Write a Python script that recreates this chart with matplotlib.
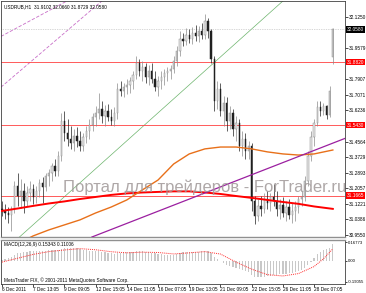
import numpy as np
import matplotlib
matplotlib.use('Agg')
from matplotlib import pyplot as plt
import matplotlib.transforms as mtransforms

plt.rcParams['font.family'] = ['Liberation Sans', 'DejaVu Sans']

header = 'USDRUB,H1  31.9102 32.0660 31.8729 32.0580'

# hourly bars, oldest first
opens = [31.095, 31.084, 31.073, 31.062, 31.095, 31.218, 31.164, 31.191, 31.138, 31.181,
         31.202, 31.159, 31.191, 31.234, 31.213, 31.272, 31.288, 31.325, 31.299, 31.379,
         31.567, 31.503, 31.470, 31.449, 31.486, 31.460, 31.433, 31.481, 31.513, 31.545,
         31.588, 31.610, 31.631, 31.594, 31.621, 31.588, 31.567, 31.610, 31.739, 31.728,
         31.749, 31.760, 31.782, 31.814, 31.878, 31.835, 31.857, 31.803, 31.835, 31.792,
         31.749, 31.782, 31.803, 31.825, 31.835, 31.846, 31.889, 31.943, 32.007, 31.996,
         32.029, 32.007, 32.039, 32.023, 32.050, 32.029, 32.104, 32.050, 31.900, 31.674,
         31.739, 31.621, 31.664, 31.567, 31.610, 31.524, 31.556, 31.433, 31.470, 31.406,
         31.433, 31.138, 31.057, 31.111, 31.095, 31.148, 31.127, 31.159, 31.138, 31.095,
         31.116, 31.073, 31.105, 31.062, 31.084, 31.105, 31.148, 31.159, 31.245, 31.379,
         31.481, 31.556, 31.642, 31.621, 31.647, 31.599, 31.9102]
highs = [31.138, 31.122, 31.105, 31.111, 31.245, 31.288, 31.256, 31.234, 31.218, 31.245,
         31.229, 31.218, 31.256, 31.266, 31.288, 31.309, 31.342, 31.363, 31.406, 31.610,
         31.621, 31.578, 31.540, 31.524, 31.535, 31.513, 31.503, 31.540, 31.578, 31.610,
         31.647, 31.717, 31.674, 31.653, 31.658, 31.631, 31.642, 31.771, 31.782, 31.771,
         31.792, 31.803, 31.835, 31.916, 31.900, 31.889, 31.878, 31.868, 31.878, 31.835,
         31.809, 31.835, 31.846, 31.857, 31.868, 31.916, 31.970, 32.050, 32.039, 32.066,
         32.061, 32.071, 32.082, 32.077, 32.093, 32.141, 32.120, 32.061, 31.916, 31.782,
         31.771, 31.701, 31.696, 31.647, 31.631, 31.594, 31.578, 31.513, 31.503, 31.460,
         31.449, 31.164, 31.148, 31.164, 31.181, 31.191, 31.181, 31.229, 31.191, 31.148,
         31.159, 31.138, 31.148, 31.127, 31.138, 31.164, 31.191, 31.272, 31.406, 31.513,
         31.578, 31.674, 31.674, 31.664, 31.653, 31.755, 32.0660]
lows = [31.057, 31.041, 31.020, 30.977, 31.073, 31.111, 31.100, 31.073, 31.111, 31.138,
        31.122, 31.127, 31.159, 31.127, 31.191, 31.218, 31.245, 31.272, 31.272, 31.352,
        31.460, 31.433, 31.417, 31.406, 31.427, 31.406, 31.406, 31.449, 31.470, 31.513,
        31.540, 31.578, 31.556, 31.540, 31.567, 31.545, 31.540, 31.578, 31.701, 31.696,
        31.712, 31.717, 31.739, 31.792, 31.809, 31.782, 31.771, 31.760, 31.771, 31.728,
        31.701, 31.739, 31.760, 31.782, 31.792, 31.825, 31.862, 31.916, 31.970, 31.975,
        31.986, 31.980, 31.996, 31.991, 32.007, 32.007, 32.012, 31.878, 31.621, 31.631,
        31.594, 31.540, 31.513, 31.524, 31.486, 31.460, 31.406, 31.379, 31.363, 31.363,
        31.084, 31.014, 31.030, 31.057, 31.073, 31.095, 31.084, 31.111, 31.057, 31.041,
        31.052, 31.030, 31.041, 31.020, 31.030, 31.073, 31.111, 31.138, 31.218, 31.352,
        31.433, 31.540, 31.594, 31.599, 31.578, 31.588, 31.8729]
closes = [31.084, 31.073, 31.062, 31.095, 31.218, 31.164, 31.191, 31.138, 31.181, 31.202,
          31.159, 31.191, 31.234, 31.213, 31.272, 31.288, 31.325, 31.299, 31.379, 31.567,
          31.503, 31.470, 31.449, 31.486, 31.460, 31.433, 31.481, 31.513, 31.545, 31.588,
          31.610, 31.631, 31.594, 31.621, 31.588, 31.567, 31.610, 31.739, 31.728, 31.749,
          31.760, 31.782, 31.814, 31.878, 31.835, 31.857, 31.803, 31.835, 31.792, 31.749,
          31.782, 31.803, 31.825, 31.835, 31.846, 31.889, 31.943, 32.007, 31.996, 32.029,
          32.007, 32.039, 32.023, 32.050, 32.029, 32.104, 32.050, 31.900, 31.674, 31.739,
          31.621, 31.664, 31.567, 31.610, 31.524, 31.556, 31.433, 31.470, 31.406, 31.433,
          31.138, 31.057, 31.111, 31.095, 31.148, 31.127, 31.159, 31.138, 31.095, 31.116,
          31.073, 31.105, 31.062, 31.084, 31.105, 31.148, 31.159, 31.245, 31.379, 31.481,
          31.556, 31.642, 31.621, 31.647, 31.599, 31.728, 32.0580]

date_bars = [0, 10, 20, 30, 40, 50, 60, 70, 80, 90, 100]
date_labels = ['6 Dec 2011', '7 Dec 13:05', '9 Dec 09:05', '12 Dec 15:05', '14 Dec 11:05',
               '16 Dec 07:05', '19 Dec 13:05', '21 Dec 09:05', '22 Dec 15:05',
               '26 Dec 11:05', '28 Dec 07:05']

# moving averages (read every 5 bars)
ma_red_bars = [0, 5, 10, 15, 20, 25, 30, 35, 40, 45, 50, 55, 60, 65, 70, 75, 80, 85, 90, 95, 100, 106]
ma_red = [31.084, 31.097, 31.111, 31.124, 31.135, 31.148, 31.159, 31.170, 31.178, 31.183, 31.186,
          31.189, 31.189, 31.183, 31.175, 31.164, 31.154, 31.143, 31.132, 31.122, 31.108, 31.095]
ma_orange_bars = [5, 10, 15, 20, 25, 30, 35, 40, 45, 50, 55, 60, 65, 70, 75, 80, 85, 90, 95, 100, 106]
ma_orange = [30.907, 30.950, 30.982, 31.009, 31.036, 31.073, 31.105, 31.143, 31.197, 31.250, 31.336,
             31.390, 31.417, 31.427, 31.427, 31.417, 31.401, 31.390, 31.384, 31.390, 31.411]

# drawn objects: (bar, price) anchor pairs
green_line = [(4.2, 30.923), (90.0, 32.211)]
purple_line = [(28.2, 30.940), (110.3, 31.476)]
dashed_lines = [[(-0.64, 32.018), (20.8, 32.211)],
                [(-0.64, 31.744), (32.0, 32.211)]]
levels = [31.8820, 31.5430, 31.1665]
bid = 32.0580

price_ticks = [32.1250, 31.9579, 31.7907, 31.7071, 31.6236, 31.4564, 31.3729,
               31.2893, 31.2057, 31.1221, 31.0386, 30.9550]

macd_hist = [0.010, 0.020, 0.030, 0.040, 0.058, 0.068, 0.076, 0.078, 0.084, 0.088,
             0.089, 0.090, 0.092, 0.092, 0.095, 0.097, 0.100, 0.100, 0.102, 0.112,
             0.118, 0.118, 0.120, 0.118, 0.115, 0.110, 0.104, 0.098, 0.094, 0.092,
             0.090, 0.088, 0.083, 0.078, 0.073, 0.069, 0.066, 0.072, 0.076, 0.078,
             0.080, 0.081, 0.083, 0.090, 0.090, 0.088, 0.084, 0.080, 0.076, 0.070,
             0.064, 0.060, 0.057, 0.055, 0.054, 0.058, 0.066, 0.076, 0.082, 0.084,
             0.085, 0.085, 0.086, 0.086, 0.087, 0.092, 0.090, 0.072, 0.036, 0.018,
             -0.004, -0.016, -0.032, -0.042, -0.056, -0.062, -0.076, -0.082, -0.094, -0.098,
             -0.124, -0.142, -0.146, -0.146, -0.142, -0.138, -0.134, -0.128, -0.126, -0.122,
             -0.120, -0.114, -0.112, -0.108, -0.100, -0.090, -0.080, -0.060, -0.034, -0.008,
             0.026, 0.060, 0.082, 0.098, 0.106, 0.122, 0.153]
signal_bars = [0, 5, 10, 15, 20, 25, 30, 35, 40, 45, 50, 55, 60, 65, 70, 75, 80, 85, 90, 95, 100, 103, 106]
signal = [-0.010, 0.025, 0.060, 0.085, 0.100, 0.112, 0.102, 0.084, 0.074, 0.080, 0.077, 0.064,
          0.074, 0.085, 0.063, -0.010, -0.074, -0.124, -0.136, -0.114, -0.050, 0.020, 0.110]
macd_ticks = [0.16773, 0.0, -0.19055]
macd_tick_labels = ['0.16773', '0.00', '-0.19055']

W, H = 366, 293
fig = plt.figure(figsize=(W / 100, H / 100), dpi=100)
ax = fig.add_axes([1 / W, 1 - 237 / H, 344 / W, 236 / H])
ax2 = fig.add_axes([1 / W, 1 - 284 / H, 344 / W, 44 / H], sharex=ax)

small = 3.4
o, h, l, c = map(np.asarray, (opens, highs, lows, closes))
idx = np.arange(len(c))
up = c >= o

ax.vlines(idx[up], l[up], h[up], color='#8c8c8c', lw=0.5, zorder=3)
ax.vlines(idx[~up], l[~up], h[~up], color='#202020', lw=0.5, zorder=3)
ax.bar(idx[up], (c - o)[up], bottom=o[up], width=0.42, color='#e6e6e6',
       edgecolor='#8c8c8c', lw=0.35, zorder=4)
ax.bar(idx[~up], (o - c)[~up], bottom=c[~up], width=0.42, color='#202020',
       edgecolor='#202020', lw=0.35, zorder=4)

ax.plot(ma_red_bars, ma_red, color='#ff0000', lw=1.4, zorder=5)
ax.plot(ma_orange_bars, ma_orange, color='#e8701a', lw=1.0, zorder=5)
ax.axline(*green_line, color='#6cb46c', lw=0.5, zorder=2)
ax.axline(*purple_line, color='#9b1fa0', lw=0.9, zorder=5)
for seg in dashed_lines:
    ax.axline(*seg, color='#c86ec8', lw=0.6, ls=(0, (4, 2)), zorder=2)

for lv in levels:
    ax.axhline(lv, color='#ff4040', lw=0.6, zorder=2)
ax.axhline(bid, color='#b0b0b0', lw=0.5, ls=(0, (1, 1.5)), zorder=2)

ax.set_xlim(-0.32, 109.9)
ax.set_ylim(30.944, 32.211)
ax.yaxis.tick_right()
ax.set_yticks(price_ticks)
ax.set_yticklabels(['%.4f' % v for v in price_ticks])
ax.tick_params(axis='y', labelsize=small, length=2, width=0.5, pad=1)
ax.tick_params(axis='x', bottom=False, labelbottom=False)

tr = mtransforms.blended_transform_factory(ax.transAxes, ax.transData)
for lv in levels:
    ax.text(1.006, lv, '%.4f' % lv, transform=tr, fontsize=small, color='white',
            va='center', ha='left', clip_on=False, zorder=10,
            bbox=dict(boxstyle='square,pad=0.12', fc='#ff0000', ec='none'))
ax.text(1.006, bid, '%.4f' % bid, transform=tr, fontsize=small, color='white',
        va='center', ha='left', clip_on=False, zorder=10,
        bbox=dict(boxstyle='square,pad=0.12', fc='black', ec='none'))

ax.text(0.008, 0.988, header, transform=ax.transAxes, fontsize=small, va='top', ha='left')

# MACD window
ax2.bar(idx, macd_hist, width=0.4, color='#c8c8c8', zorder=2)
ax2.plot(signal_bars, signal, color='#ff3030', lw=0.7, ls=(0, (1, 1)), zorder=3)
ax2.set_ylim(-0.2087, 0.1904)
ax2.yaxis.tick_right()
ax2.set_yticks(macd_ticks)
ax2.set_yticklabels(macd_tick_labels)
ax2.tick_params(axis='y', labelsize=3.1, length=1.5, width=0.5, pad=0.5)
ax2.set_xticks(date_bars)
ax2.set_xticklabels(date_labels)
ax2.tick_params(axis='x', labelsize=small, length=2, width=0.5, pad=0.5)
for lab in ax2.get_xticklabels():
    lab.set_ha('left')
ax2.text(0.008, 0.95, 'MACD(12,26,9) 0.15343 0.11006', transform=ax2.transAxes,
         fontsize=small, va='top', ha='left')
ax2.text(0.008, 0.03, 'MetaTrader FIX, \u00a9 2001-2011 MetaQuotes Software Corp.',
         transform=ax2.transAxes, fontsize=small, va='bottom', ha='left')

for a in (ax, ax2):
    for s in a.spines.values():
        s.set_linewidth(0.6)
        s.set_color('#404040')
ax.spines['bottom'].set_color('#909090')
ax.spines['bottom'].set_linewidth(1.0)
ax2.spines['top'].set_color('#909090')
ax2.spines['top'].set_linewidth(1.0)

fig.text(63 / W, 1 - 192 / H, 'Портал для трейдеров - ForTrader.ru', fontsize=12,
         color='#a09898', alpha=0.85, ha='left', va='baseline', zorder=20)

fig.savefig('out.png', dpi=100, facecolor='white')
